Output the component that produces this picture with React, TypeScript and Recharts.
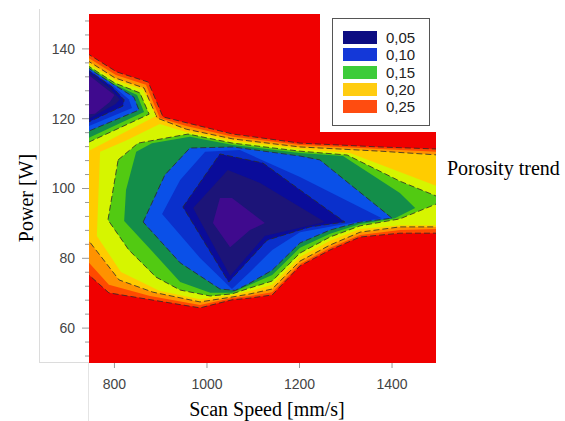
import React from "react";
import { ScatterChart, Scatter, XAxis, YAxis, Legend } from "recharts";

type Pt = [number, number]; // [scan speed mm/s, power W]

// filled contour regions, outermost first
const redField: Pt[] = [[740, 45], [740, 155], [1500, 155], [1500, 45]];
const p25: Pt[] = [[740, 138.8], [805, 133.4], [873, 130.5], [905, 120.5], [957, 118.8], [1056, 115.6], [1201, 113.0], [1374, 111.9], [1500, 111.3], [1500, 87.2], [1417, 87.2], [1331, 86.1], [1266, 82.4], [1201, 77.8], [1141, 69.5], [1093, 68.6], [1054, 68.1], [985, 65.8], [788, 70.1], [740, 75.8]];
const p225: Pt[] = [[740, 137.7], [803, 132.5], [868, 129.7], [898, 120.2], [955, 117.9], [1056, 114.8], [1201, 112.5], [1374, 111.3], [1500, 110.5], [1500, 88.4], [1417, 88.1], [1331, 86.7], [1266, 83.0], [1201, 78.4], [1141, 70.3], [1093, 69.2], [1054, 68.6], [985, 66.6], [877, 69.2], [788, 72.4], [740, 79.5]];
const p20: Pt[] = [[740, 136.8], [801, 131.7], [864, 128.8], [892, 120.2], [955, 117.0], [1056, 114.2], [1201, 111.9], [1374, 110.7], [1500, 109.6], [1500, 89.0], [1417, 89.0], [1331, 87.5], [1266, 83.8], [1201, 79.2], [1141, 71.2], [1093, 69.8], [1054, 68.9], [985, 67.5], [883, 70.3], [810, 73.8], [740, 85.8]];
const p175Blob: Pt[] = [[740, 136.0], [801, 131.1], [862, 128.2], [890, 120.8], [740, 110.5]];
const p175Main: Pt[] = [[769, 110.5], [823, 113.6], [898, 118.5], [955, 116.2], [1056, 113.6], [1201, 111.3], [1309, 110.2], [1500, 100.5], [1500, 89.5], [1417, 89.5], [1331, 88.4], [1266, 85.0], [1201, 80.4], [1141, 72.4], [1093, 70.6], [1054, 69.5], [985, 68.3], [898, 70.6], [814, 76.1], [762, 86.4]];
const p15Blob: Pt[] = [[740, 135.4], [801, 130.2], [855, 127.4], [875, 121.3], [740, 113.0]];
const p15Main: Pt[] = [[808, 108.2], [851, 113.0], [959, 115.6], [1056, 113.0], [1201, 110.7], [1303, 109.6], [1417, 102.1], [1500, 97.6], [1500, 95.8], [1417, 91.3], [1331, 89.3], [1266, 86.1], [1201, 81.5], [1141, 73.5], [1093, 71.5], [1054, 69.8], [1007, 69.2], [942, 70.9], [890, 74.6], [831, 82.4], [786, 91.0]];
const p125Blob: Pt[] = [[740, 135.1], [799, 129.9], [849, 126.8], [864, 121.9], [740, 114.2]];
const p125Main: Pt[] = [[825, 99.6], [847, 110.5], [881, 113.0], [963, 114.8], [1056, 112.5], [1201, 110.2], [1294, 109.3], [1417, 98.7], [1450, 94.4], [1406, 91.5], [1331, 89.8], [1266, 87.0], [1201, 83.0], [1141, 75.2], [1093, 72.4], [1054, 70.1], [1007, 70.1], [942, 73.2], [883, 81.8], [821, 90.7]];
const p10Blob: Pt[] = [[740, 134.8], [799, 129.7], [842, 126.2], [853, 122.5], [740, 116.2]];
const p10Main: Pt[] = [[862, 90.4], [909, 103.9], [963, 111.6], [1056, 111.9], [1201, 109.3], [1244, 108.2], [1400, 91.5], [1331, 90.4], [1266, 88.1], [1201, 84.4], [1141, 76.6], [1093, 72.9], [1061, 70.8], [1028, 71.2], [942, 78.7]];
const p075Blob: Pt[] = [[740, 134.5], [797, 129.4], [831, 125.6], [838, 123.1], [740, 117.6]];
const p075Main: Pt[] = [[903, 92.7], [942, 102.4], [996, 110.5], [1071, 111.0], [1201, 103.3], [1378, 91.5], [1298, 89.8], [1201, 87.5], [1141, 82.4], [1093, 76.1], [1054, 71.2], [985, 80.1]];
const p05Blob: Pt[] = [[740, 134.2], [795, 129.1], [821, 125.4], [818, 123.6], [740, 118.8]];
const p05Main: Pt[] = [[948, 94.7], [1028, 109.9], [1121, 107.3], [1201, 99.6], [1298, 90.4], [1223, 89.0], [1130, 85.2], [1047, 73.2]];
const p025Blob: Pt[] = [[740, 133.7], [790, 128.8], [812, 125.6], [803, 124.2], [740, 119.6]];
const p025Main: Pt[] = [[970, 94.4], [1045, 105.3], [1115, 101.6], [1201, 94.7], [1255, 90.4], [1125, 86.4], [1050, 74.9]];
const p01Blob: Pt[] = [[740, 133.0], [778, 129.0], [800, 126.8], [790, 124.8], [758, 121.4], [740, 121.2]];
const p01Main: Pt[] = [[1028, 97.3], [1054, 97.3], [1125, 90.1], [1093, 88.1], [1050, 83.2], [1013, 90.1]];

const xTicks = [800, 1000, 1200, 1400];
const yTicks = [52, 56, 60, 64, 68, 72, 76, 80, 84, 88, 92, 96, 100, 104, 108, 112, 116, 120, 124, 128, 132, 136, 140, 144, 148];
const legendLabels = ["0,05", "0,10", "0,15", "0,20", "0,25"];
const legendColors = ["#0c0c82", "#1438d8", "#3ccc3a", "#ffcc10", "#ff4c10"];

const C = {
  red: "#f00000", oRed: "#ff4a00", orange: "#ff9200", gold: "#ffcc00", yGreen: "#d6f500",
  lGreen: "#52ca12", dGreen: "#138e4a", blue: "#0a50e8", mBlue: "#0a30cc", navy: "#0a0c9a",
  dNavy: "#1c1478", purple: "#3f0a8e",
};

const bands = [
  { pts: redField, color: C.red, dash: false },
  { pts: p25, color: C.oRed, dash: true },
  { pts: p225, color: C.orange, dash: false },
  { pts: p20, color: C.gold, dash: true },
  { pts: p175Blob, color: C.yGreen, dash: false },
  { pts: p175Main, color: C.yGreen, dash: false },
  { pts: p15Blob, color: C.lGreen, dash: true },
  { pts: p15Main, color: C.lGreen, dash: true },
  { pts: p125Blob, color: C.dGreen, dash: false },
  { pts: p125Main, color: C.dGreen, dash: false },
  { pts: p10Blob, color: C.blue, dash: true },
  { pts: p10Main, color: C.blue, dash: true },
  { pts: p075Blob, color: C.mBlue, dash: false },
  { pts: p075Main, color: C.mBlue, dash: false },
  { pts: p05Blob, color: C.navy, dash: true },
  { pts: p05Main, color: C.navy, dash: true },
  { pts: p025Blob, color: C.dNavy, dash: false },
  { pts: p025Main, color: C.dNavy, dash: false },
  { pts: p01Blob, color: C.purple, dash: false },
  { pts: p01Main, color: C.purple, dash: false },
];

const toXY = (pts: Pt[]) => [...pts, pts[0]].map(([s, p]) => ({ s, p }));

const sans = "'Liberation Sans', Arial, sans-serif";
const serif = "'Liberation Serif', 'Times New Roman', serif";

const NoDot = () => null;

const YTick = (props: any) => {
  const { x, y, payload } = props;
  const major = payload.value % 20 === 0;
  return (
    <g>
      <line x1={x - (major ? 7 : 4)} x2={x} y1={y} y2={y} stroke="#999" />
      {major && (
        <text x={x - 14} y={y} dy="0.35em" textAnchor="end" fill="#444" fontSize={14} fontFamily={sans}>
          {payload.value}
        </text>
      )}
    </g>
  );
};

const LegendBox = () => (
  <div style={{ width: 116, height: 118, background: "#fff", position: "relative" }}>
    <div style={{ position: "absolute", left: 12, top: 4, width: 98, height: 108, border: "1.5px solid #555", boxSizing: "border-box" }}>
      {legendLabels.map((l, i) => (
        <div key={l} style={{ position: "absolute", left: 10, top: 10 + i * 17.25, height: 17, display: "flex", alignItems: "center" }}>
          <div style={{ width: 34, height: 13, background: legendColors[i] }} />
          <span style={{ marginLeft: 9, fontFamily: sans, fontSize: 15, color: "#222", lineHeight: 1 }}>{l}</span>
        </div>
      ))}
    </div>
  </div>
);

export default function App() {
  return (
    <div style={{ position: "absolute", left: 0, top: 0, width: 565, height: 421, background: "#fff" }}>
      <ScatterChart width={565} height={421} margin={{ top: 14, right: 129, bottom: 0, left: 0 }}>
        <XAxis type="number" dataKey="s" domain={[745, 1495]} allowDataOverflow ticks={xTicks} interval={0}
          height={58} axisLine={false} tickSize={5} tickMargin={11} tickLine={{ stroke: "#999" }}
          tick={{ fill: "#444", fontSize: 14, fontFamily: sans }} />
        <YAxis type="number" dataKey="p" domain={[50, 150]} allowDataOverflow ticks={yTicks} interval={0}
          width={89} axisLine={false} tickLine={false} tickSize={0} tickMargin={0} tick={<YTick />} />
        {bands.map((b, i) => (
          <Scatter key={i} data={toXY(b.pts)} fill={b.color} shape={NoDot} legendType="none" isAnimationActive={false}
            line={{ fill: b.color, stroke: b.dash ? "#2a2a2a" : "none", strokeWidth: 1, strokeDasharray: "6 3", strokeOpacity: 0.8 }} />
        ))}
        <Legend layout="vertical" align="center" verticalAlign="middle" content={<LegendBox />}
          wrapperStyle={{ left: 320, top: 14, width: 116, height: 118 }} />
      </ScatterChart>
      <div style={{ position: "absolute", left: 39, top: 9, width: 50, height: 354, borderLeft: "1px solid #dcdcdc", borderBottom: "1px solid #dcdcdc", boxSizing: "border-box" }} />
      <div style={{ position: "absolute", left: 88, top: 363, width: 1, height: 58, background: "#e4e4e4" }} />
      <div style={{ position: "absolute", left: 26, top: 197.5, transform: "translate(-50%, -50%) rotate(-90deg)", whiteSpace: "nowrap", fontFamily: serif, fontSize: 20, lineHeight: 1, color: "#000" }}>
        Power [W]
      </div>
      <div style={{ position: "absolute", left: 267, top: 399, transform: "translateX(-50%)", whiteSpace: "nowrap", fontFamily: serif, fontSize: 20, lineHeight: 1, color: "#000" }}>
        Scan Speed [mm/s]
      </div>
      <div style={{ position: "absolute", left: 447, top: 158, whiteSpace: "nowrap", fontFamily: serif, fontSize: 20, lineHeight: 1, color: "#000" }}>
        Porosity trend
      </div>
    </div>
  );
}
